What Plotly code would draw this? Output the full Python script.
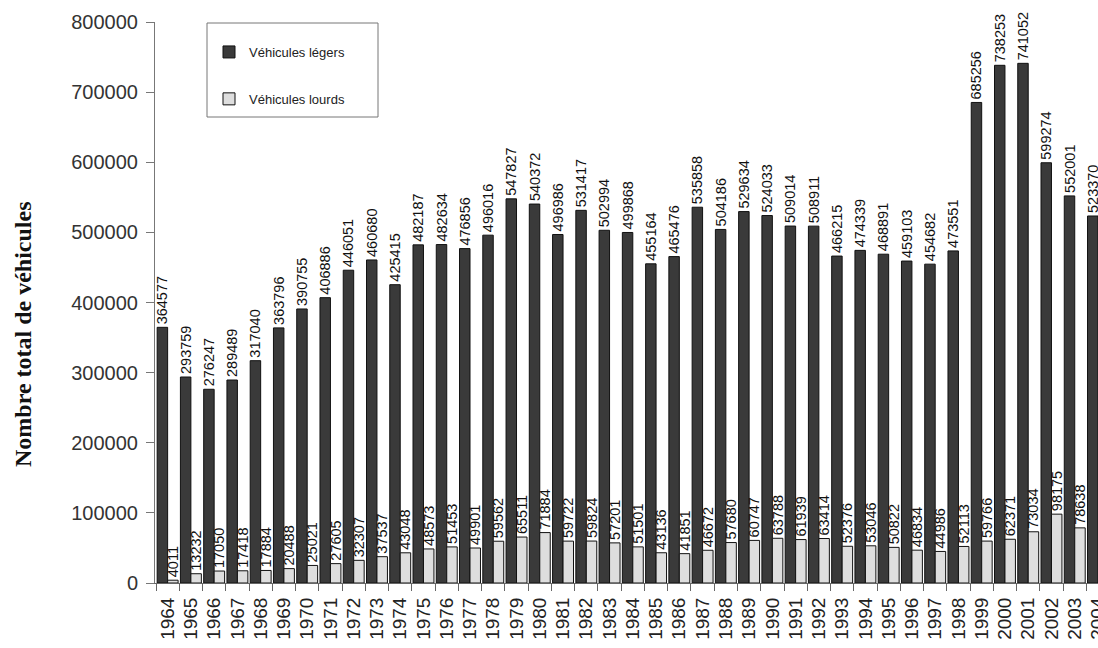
import plotly.graph_objects as go

# Annual vehicle counts, 1964-2004
years = [str(y) for y in range(1964, 2005)]

legers = [364577, 293759, 276247, 289489, 317040, 363796, 390755, 406886, 446051, 460680,
          425415, 482187, 482634, 476856, 496016, 547827, 540372, 496986, 531417, 502994,
          499868, 455164, 465476, 535858, 504186, 529634, 524033, 509014, 508911, 466215,
          474339, 468891, 459103, 454682, 473551, 685256, 738253, 741052, 599274, 552001,
          523370]

lourds = [4011, 13232, 17050, 17418, 17884, 20488, 25021, 27605, 32307, 37537,
          43048, 48573, 51453, 49901, 59562, 65511, 71884, 59722, 59824, 57201,
          51501, 43136, 41851, 46672, 57680, 60747, 63788, 61939, 63414, 52376,
          53046, 50822, 46834, 44986, 52113, 59766, 62371, 73034, 98175, 78638,
          None]

y_ticks = [0, 100000, 200000, 300000, 400000, 500000, 600000, 700000, 800000]

W, H = 1098, 648
ML, MR, MT, MB = 155, 0, 22, 65
PW, PH = W - ML - MR, H - MT - MB


def px_x(p):
    return (p - ML) / PW


def px_y(p):
    return (H - MB - p) / PH


def labels(vals):
    return [str(v) if v is not None else "" for v in vals]


label_font = dict(family="Liberation Sans, Arial, sans-serif", size=14.5, color="#111")

fig = go.Figure()
fig.add_trace(go.Bar(
    x=years, y=legers, name="Véhicules légers", legendgroup="a",
    marker=dict(color="#3a3a3a", line=dict(color="#111", width=1)),
    text=labels(legers), textposition="outside", textangle=-90,
    textfont=label_font, constraintext="none", cliponaxis=False,
))
fig.add_trace(go.Bar(
    x=years, y=lourds, name="Véhicules lourds", legendgroup="b",
    marker=dict(color="#dedede", line=dict(color="#111", width=1)),
    text=labels(lourds), textposition="outside", textangle=-90,
    textfont=label_font, constraintext="none", cliponaxis=False,
))

fig.update_layout(
    template="none",
    width=W, height=H,
    margin=dict(l=ML, r=MR, t=MT, b=MB, pad=0),
    paper_bgcolor="white", plot_bgcolor="white",
    barmode="group", bargap=0.1, bargroupgap=0.0,
    showlegend=True,
    legend=dict(
        x=px_x(209), y=px_y(37), xanchor="left", yanchor="top",
        bgcolor="rgba(0,0,0,0)", borderwidth=0,
        font=dict(family="Liberation Sans, Arial, sans-serif", size=13, color="#222"),
        traceorder="grouped", tracegroupgap=27,
    ),
    xaxis=dict(
        type="category", range=[-0.543, 40.0], autorange=False,
        showline=True, linecolor="#666", linewidth=1,
        ticks="outside", tickson="boundaries", ticklen=7, tickcolor="#666",
        tickangle=-90, ticklabelstandoff=6,
        tickfont=dict(family="Liberation Sans, Arial, sans-serif", size=19, color="#222"),
        showgrid=False, zeroline=False, automargin=False,
    ),
    yaxis=dict(
        range=[0, 800000], autorange=False,
        tickvals=y_ticks, ticktext=[str(v) for v in y_ticks],
        showline=True, linecolor="#777", linewidth=1,
        ticks="outside", ticklen=8, tickcolor="#777", ticklabelstandoff=4,
        tickfont=dict(family="Liberation Sans, Arial, sans-serif", size=20, color="#333"),
        showgrid=False, zeroline=False, automargin=False,
    ),
    shapes=[dict(
        type="rect", xref="paper", yref="paper",
        x0=px_x(207), x1=px_x(378), y0=px_y(117), y1=px_y(23),
        line=dict(color="#777", width=1), fillcolor="rgba(0,0,0,0)",
    )],
    annotations=[dict(
        text="<b>Nombre total de véhicules</b>", textangle=-90,
        xref="paper", yref="paper", x=px_x(23), y=px_y(334),
        xanchor="center", yanchor="middle", showarrow=False,
        font=dict(family="Liberation Serif, Times New Roman, serif", size=24, color="#111"),
    )],
)

fig.write_html("out.html")
